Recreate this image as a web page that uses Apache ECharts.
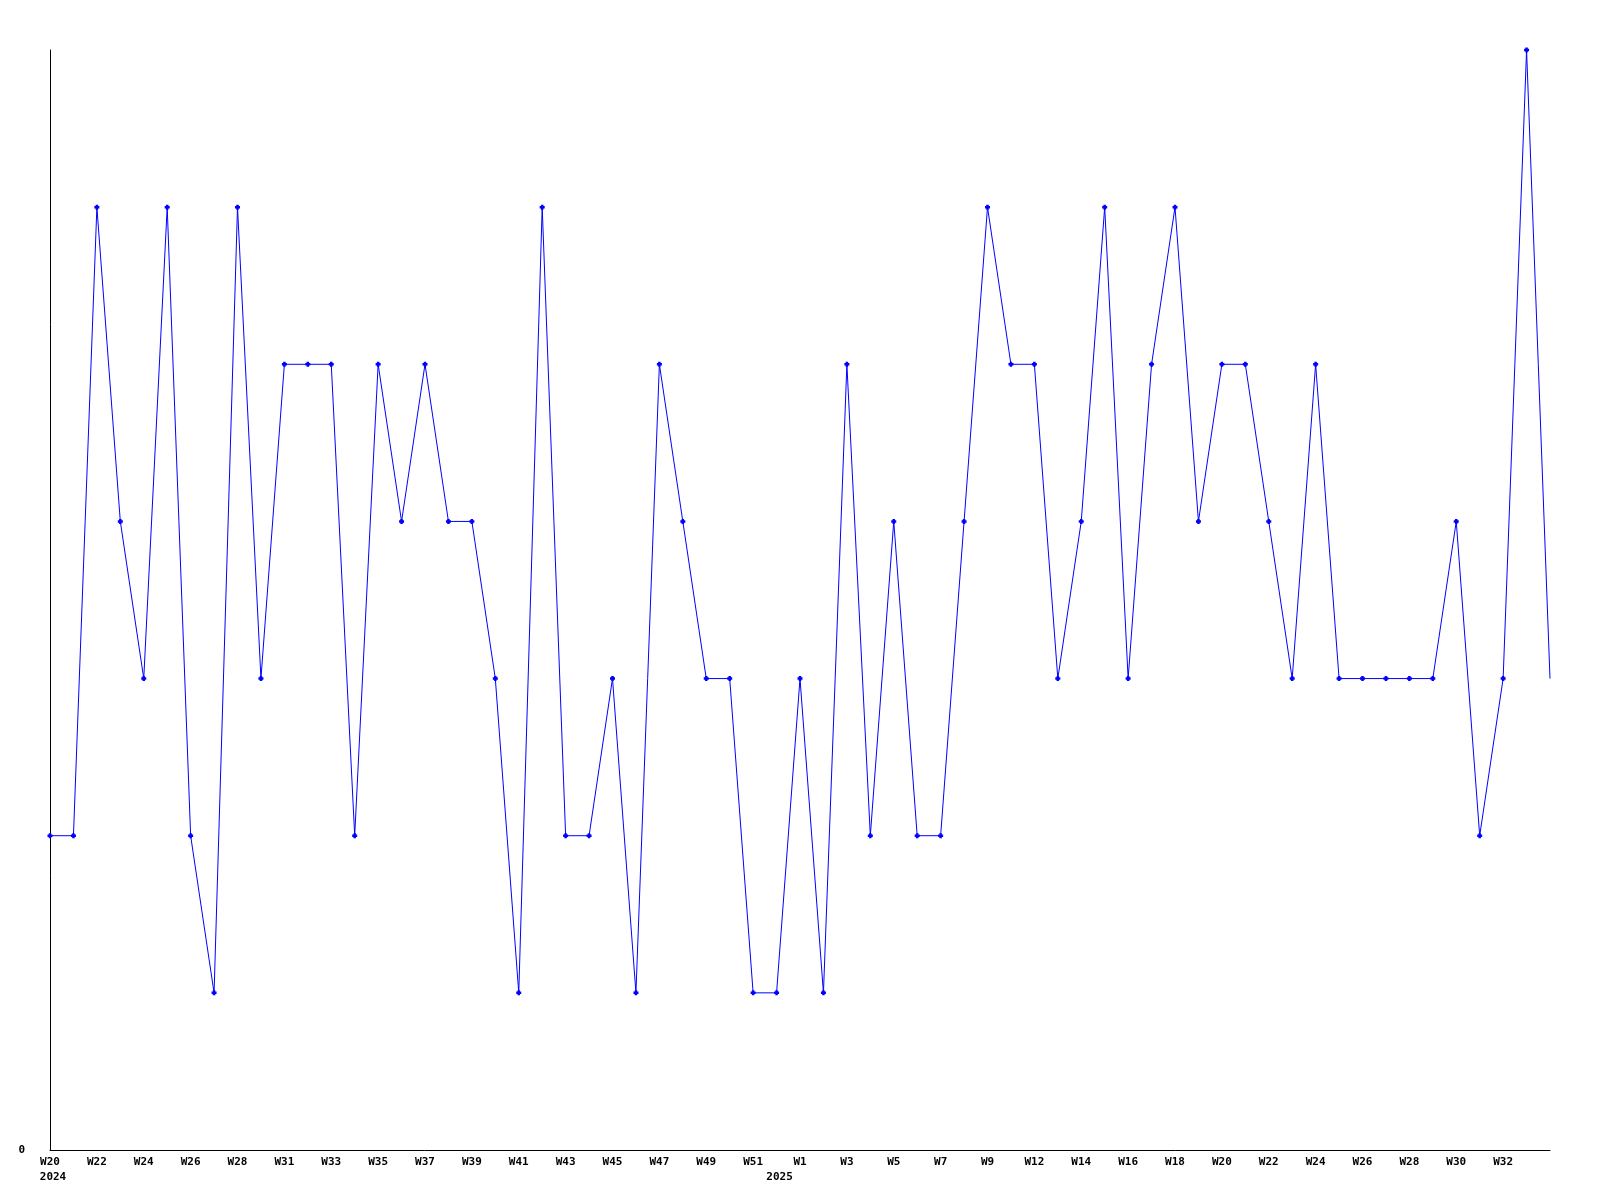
<!DOCTYPE html>
<html>
<head>
<meta charset="utf-8">
<script src="https://cdn.jsdelivr.net/npm/echarts@6/dist/echarts.min.js"></script>
<style>
html,body{margin:0;padding:0;background:#fff;}
#chart{width:1600px;height:1200px;}
</style>
</head>
<body>
<div id="chart"></div>
<script>
var weeks = ['W20','W21','W22','W23','W24','W25','W26','W27','W28','W29',
  'W31','W32','W33','W34','W35','W36','W37','W38','W39','W40',
  'W41','W42','W43','W44','W45','W46','W47','W48','W49','W50',
  'W51','W52','W1','W2','W3','W4','W5','W6','W7','W8',
  'W9','W10','W12','W13','W14','W15','W16','W17','W18','W19',
  'W20','W21','W22','W23','W24','W25','W26','W27','W28','W29',
  'W30','W31','W32','W33','W34'];
var years = ['2024','','','','','','','','','',
  '','','','','','','','','','',
  '','','','','','','','','','',
  '','2025','','','','','','','','',
  '','','','','','','','','','',
  '','','','','','','','','','',
  '','','','',''];
var values = [2,2,6,4,3,6,2,1,6,3,
  5,5,5,2,5,4,5,4,4,3,
  1,6,2,2,3,1,5,4,3,3,
  1,1,3,1,5,2,4,2,2,4,
  6,5,5,3,4,6,3,5,6,4,
  5,5,4,3,5,3,3,3,3,3,
  4,2,3,7,3];
var yTicks = [0, 7];

var chart = echarts.init(document.getElementById('chart'));
var lastIdx = values.length - 1;
var seriesData = values.map(function(v, i){
  return i === lastIdx ? {value: v, symbol: 'none'} : v;
});
var font = '"DejaVu Sans Mono", "Liberation Mono", monospace';
chart.setOption({
  animation: false,
  backgroundColor: '#ffffff',
  grid: {left: 50, right: 50, top: 50, bottom: 50, containLabel: false},
  xAxis: [{
    type: 'category',
    data: weeks,
    boundaryGap: false,
    axisLine: {show: true, lineStyle: {color: '#000', width: 1}},
    axisTick: {show: false},
    splitLine: {show: false},
    axisLabel: {
      color: '#000', fontFamily: font, fontWeight: 'bold', fontSize: 11,
      margin: 7,
      interval: function(i){ return i % 2 === 0 && i < lastIdx; }
    }
  }, {
    type: 'category',
    data: years,
    boundaryGap: false,
    position: 'bottom',
    offset: 15,
    axisLine: {show: false},
    axisTick: {show: false},
    splitLine: {show: false},
    axisLabel: {
      color: '#000', fontFamily: font, fontWeight: 'bold', fontSize: 11,
      margin: 7, interval: 0, padding: [0, 0, 0, 6]
    }
  }],
  yAxis: {
    type: 'value',
    min: yTicks[0],
    max: yTicks[1],
    interval: yTicks[1] - yTicks[0],
    axisLine: {show: true, lineStyle: {color: '#000', width: 1}},
    axisTick: {show: false},
    splitLine: {show: false},
    axisLabel: {
      color: '#000', fontFamily: font, fontWeight: 'bold', fontSize: 11,
      margin: 25,
      formatter: function(v){ return v === 0 ? '0' : ''; }
    }
  },
  series: [{
    type: 'line',
    data: seriesData,
    xAxisIndex: 0,
    symbol: 'path://M1,0 L3,0 L3,1 L4,1 L4,3 L3,3 L3,4 L1,4 L1,3 L0,3 L0,1 L1,1 Z',
    symbolSize: 5,
    showAllSymbol: true,
    itemStyle: {color: '#0000ff'},
    lineStyle: {color: '#0000ff', width: 1},
    emphasis: {disabled: true}
  }]
});
</script>
</body>
</html>
